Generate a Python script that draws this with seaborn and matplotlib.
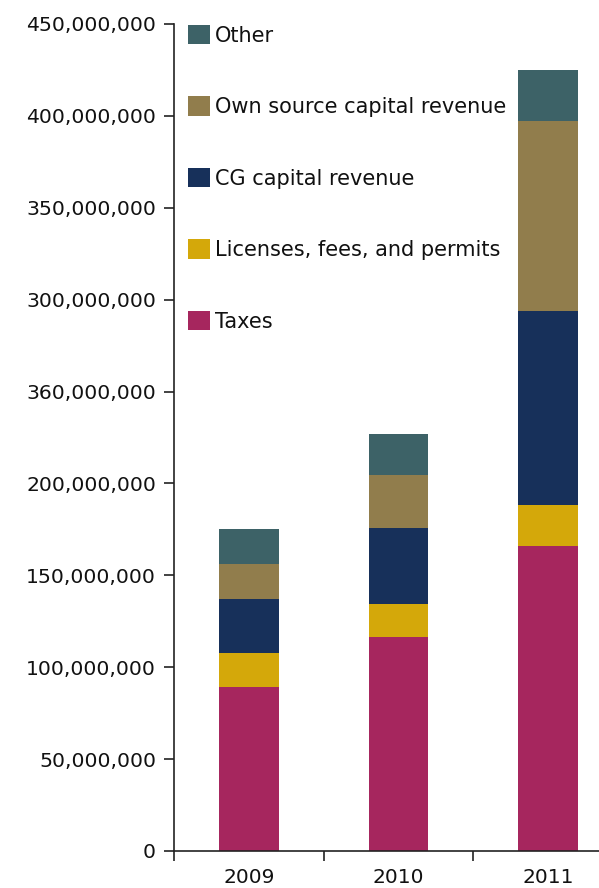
import numpy as np
import pandas as pd
import matplotlib
matplotlib.use("Agg")
import matplotlib.pyplot as plt
import seaborn as sns

# values
years = ["2009", "2010", "2011"]
taxes = [89_000_000, 116_500_000, 166_000_000]
licenses = [18_500_000, 18_000_000, 22_000_000]
cg_capital = [29_500_000, 41_000_000, 106_000_000]
own_source = [19_000_000, 29_000_000, 103_000_000]
other = [19_000_000, 22_500_000, 28_000_000]

series_names = ["Taxes", "Licenses, fees, and permits", "CG capital revenue",
                "Own source capital revenue", "Other"]
series_colors = ["#A6265E", "#D4A80A", "#17305A", "#917D4C", "#3D6267"]

ytick_values = [0, 50_000_000, 100_000_000, 150_000_000, 200_000_000,
                250_000_000, 300_000_000, 350_000_000, 400_000_000, 450_000_000]
ytick_labels = ["0", "50,000,000", "100,000,000", "150,000,000", "200,000,000",
                "360,000,000", "300,000,000", "350,000,000", "400,000,000", "450,000,000"]

df = pd.DataFrame({"year": years, "Taxes": taxes,
                   "Licenses, fees, and permits": licenses,
                   "CG capital revenue": cg_capital,
                   "Own source capital revenue": own_source,
                   "Other": other})
# cumulative sums, drawn from the tallest down so each layer shows
cum = df[series_names].cumsum(axis=1)

sns.set_style("ticks")
plt.rcParams["font.family"] = ["DejaVu Sans"]

fig = plt.figure(figsize=(5.99, 8.88), dpi=100)
ax = fig.add_axes([0.2905, 0.0417, 0.7095, 0.9313])

for name, col in zip(series_names[::-1], series_colors[::-1]):
    sns.barplot(x=df["year"], y=cum[name], color=col, label=name,
                width=0.4, saturation=1, linewidth=0, ax=ax)

ax.set_xlim(-0.5, 2.34)
ax.set_ylim(0, 450_000_000)
ax.set_yticks(ytick_values)
ax.set_yticklabels(ytick_labels)
ax.set_xlabel("")
ax.set_ylabel("")

# tick marks between the bars, labels under the bars
ax.set_xticks([-0.5, 0.5, 1.5], minor=True)
ax.tick_params(axis="x", which="major", length=0, pad=12, labelsize=14.5, colors="#111111")
ax.tick_params(axis="x", which="minor", length=7, width=1.2, direction="out", color="#222222")
ax.tick_params(axis="y", length=7, width=1.2, pad=6, labelsize=14.7, colors="#111111")
ax.tick_params(axis="y", color="#222222")

for side in ["top", "right"]:
    ax.spines[side].set_visible(False)
for side in ["left", "bottom"]:
    ax.spines[side].set_linewidth(1.2)
    ax.spines[side].set_color("#222222")

leg = ax.legend(loc="upper left", bbox_to_anchor=(188 / 599, 1 - 25 / 888),
                bbox_transform=fig.transFigure, frameon=False, fontsize=15,
                handlelength=1.06, handleheight=1.06, handletextpad=0.25,
                labelspacing=2.43, borderpad=0, borderaxespad=0)
for t in leg.get_texts():
    t.set_color("#111111")

fig.savefig("out.png", dpi=100)
